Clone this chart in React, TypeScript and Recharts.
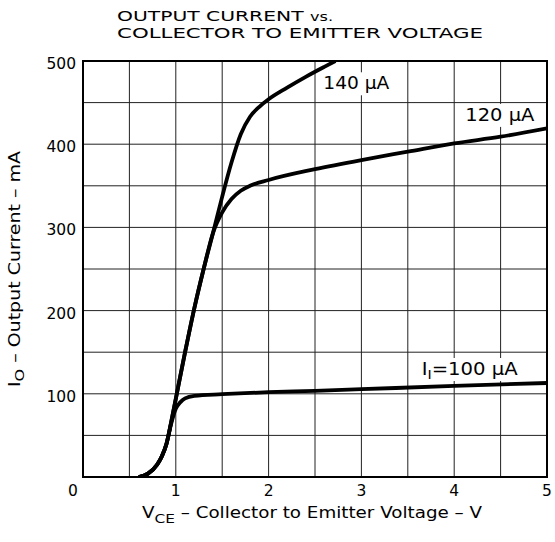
import React from "react";
import {
  CartesianGrid, Line, LineChart, ReferenceArea, ReferenceDot, XAxis, YAxis
} from "recharts";

// shared foot + steep rise (both 120 and 140 µA curves)
const vceSteep = [0.6, 0.7, 0.8, 0.85, 0.9, 0.95, 1.0, 1.1, 1.2, 1.3, 1.4];
const ioSteep = [0, 4, 15, 25, 40, 66, 94, 150, 203, 250, 293];

const vce140 = [1.5, 1.6, 1.7, 1.8, 1.9, 2.0, 2.2, 2.4, 2.6, 2.72];
const io140 = [337, 378, 412, 433, 445, 454, 468, 481, 493, 500];

const vce120 = [1.5, 1.6, 1.7, 1.8, 2.0, 2.5, 3.0, 3.5, 4.0, 4.5, 5.0];
const io120 = [318, 334, 344, 350, 357, 370, 381, 391, 401, 409, 419];

const vce100 = [0.6, 0.7, 0.8, 0.85, 0.9, 0.95, 1.0, 1.05, 1.1, 1.2, 1.5, 2.0, 2.5, 3.0, 4.0, 5.0];
const io100 = [0, 4, 15, 25, 40, 64, 82, 90, 94.5, 97.5, 99.5, 102, 103.5, 105.5, 109.5, 113];

const xTicks = [0, 0.5, 1, 1.5, 2, 2.5, 3, 3.5, 4, 4.5, 5];
const yTicks = [0, 50, 100, 150, 200, 250, 300, 350, 400, 450, 500];

const toPoints = (xs: number[], ys: number[]) => xs.map((v, i) => ({ v, io: ys[i] }));

const data140 = toPoints([...vceSteep, ...vce140], [...ioSteep, ...io140]);
const data120 = toPoints([...vceSteep, ...vce120], [...ioSteep, ...io120]);
const data100 = toPoints(vce100, io100);

const FONT = "'DejaVu Sans', 'Liberation Sans', Arial, sans-serif";

const XTick = (props: any) =>
{
  const { x, y, payload } = props;
  const val = payload.value as number;
  if(!Number.isInteger(val))
  {
    return <g/>;
  }
  return (
    <text x={val === 0 ? x - 10 : x} y={y} dy={17} textAnchor="middle" fontFamily={FONT} fontSize={15.5} fill="#000">
      {val}
    </text>
  );
};

const YTick = (props: any) =>
{
  const { x, y, payload } = props;
  const val = payload.value as number;
  if(val === 0 || val % 100 !== 0)
  {
    return <g/>;
  }
  return (
    <text x={x - 5} y={y} dy={8} textAnchor="end" fontFamily={FONT} fontSize={15.5} fill="#000">
      {val}
    </text>
  );
};

const Anno = ({ viewBox, children, width }: any) =>
{
  const x = viewBox?.x ?? 0;
  const y = viewBox?.y ?? 0;
  return (
    <g>
      <rect x={x - 4} y={y - 17} width={width + 8} height={23} fill="#fff"/>
      <text x={x} y={y} fontFamily={FONT} fontSize={18} fill="#000" textLength={width} lengthAdjust="spacingAndGlyphs">
        {children}
      </text>
    </g>
  );
};

export default function App()
{
  return (
    <div style={{ position: "absolute", left: 0, top: 0, width: 555, height: 542, background: "#fff" }}>
      <LineChart width={555} height={542} margin={{ top: 61, right: 8, bottom: 0, left: 0 }}>
        <CartesianGrid stroke="#222" strokeWidth={1}/>
        <XAxis
          type="number"
          dataKey="v"
          domain={[0, 5]}
          ticks={xTicks}
          tick={XTick}
          tickLine={false}
          tickSize={0}
          axisLine={{ stroke: "#000", strokeWidth: 2 }}
          height={65}
          allowDataOverflow
        />
        <YAxis
          type="number"
          domain={[0, 500]}
          ticks={yTicks}
          tick={YTick}
          tickLine={false}
          tickSize={0}
          axisLine={{ stroke: "#000", strokeWidth: 2 }}
          width={83}
          allowDataOverflow
        />
        <ReferenceArea x1={0} x2={5} y1={0} y2={500} fill="none" stroke="#000" strokeWidth={2}/>
        <Line data={data100} dataKey="io" type="monotone" stroke="#000" strokeWidth={3.8} dot={false} isAnimationActive={false}/>
        <Line data={data120} dataKey="io" type="monotone" stroke="#000" strokeWidth={3.8} dot={false} isAnimationActive={false}/>
        <Line data={data140} dataKey="io" type="monotone" stroke="#000" strokeWidth={3.8} dot={false} isAnimationActive={false}/>
        <ReferenceDot x={2.59} y={466} r={0} fill="none" stroke="none"
          label={(p: any) => <Anno viewBox={p.viewBox} width={66}>140 µA</Anno>}/>
        <ReferenceDot x={4.12} y={428} r={0} fill="none" stroke="none"
          label={(p: any) => <Anno viewBox={p.viewBox} width={69}>120 µA</Anno>}/>
        <ReferenceDot x={3.65} y={122.6} r={0} fill="none" stroke="none"
          label={(p: any) => (
            <Anno viewBox={p.viewBox} width={96}>
              I<tspan dy={4} fontSize={13}>I</tspan><tspan dy={-4}>=100 µA</tspan>
            </Anno>
          )}/>
      </LineChart>
      <svg width={555} height={542} style={{ position: "absolute", left: 0, top: 0, pointerEvents: "none" }}>
        <text x={117} y={21} fontFamily={FONT} fontSize={14.5} fill="#000" textLength={216} lengthAdjust="spacingAndGlyphs">
          OUTPUT CURRENT <tspan fontSize={11.5}>vs.</tspan>
        </text>
        <text x={117} y={37.5} fontFamily={FONT} fontSize={14.5} fill="#000" textLength={366} lengthAdjust="spacingAndGlyphs">
          COLLECTOR TO EMITTER VOLTAGE
        </text>
        <text x={142} y={518} fontFamily={FONT} fontSize={15.5} fill="#000" textLength={340} lengthAdjust="spacingAndGlyphs">
          V<tspan dy={5} fontSize={13}>CE</tspan><tspan dy={-5}> – Collector to Emitter Voltage – V</tspan>
        </text>
        <text transform="translate(20,269) rotate(-90)" textAnchor="middle" fontFamily={FONT} fontSize={15.5} fill="#000" textLength={236} lengthAdjust="spacingAndGlyphs">
          I<tspan dy={4} fontSize={13}>O</tspan><tspan dy={-4}> – Output Current – mA</tspan>
        </text>
      </svg>
    </div>
  );
}
